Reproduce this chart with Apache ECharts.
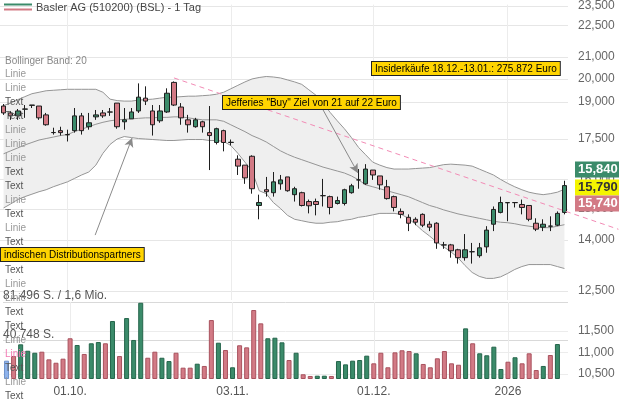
<!DOCTYPE html>
<html>
<head>
<meta charset="UTF-8">
<title>Basler AG</title>
<script src="https://cdn.jsdelivr.net/npm/echarts@6.0.0/dist/echarts.min.js"></script>
<style>
html, body { margin: 0; padding: 0; background: #fff; }
#chart { width: 619px; height: 399px; }
</style>
</head>
<body>
<div id="chart"></div>
<script>
// Handelstage
var dates = [
	'18.09.2025','19.09.2025','22.09.2025','23.09.2025','24.09.2025','25.09.2025','26.09.2025','29.09.2025','30.09.2025',
	'01.10.2025','02.10.2025','03.10.2025','06.10.2025','07.10.2025','08.10.2025','09.10.2025','10.10.2025','13.10.2025','14.10.2025',
	'15.10.2025','16.10.2025','17.10.2025','20.10.2025','21.10.2025','22.10.2025','23.10.2025','24.10.2025','27.10.2025','28.10.2025',
	'29.10.2025','30.10.2025','31.10.2025',
	'03.11.2025','04.11.2025','05.11.2025','06.11.2025','07.11.2025','10.11.2025','11.11.2025','12.11.2025','13.11.2025','14.11.2025',
	'17.11.2025','18.11.2025','19.11.2025','20.11.2025','21.11.2025','24.11.2025','25.11.2025','26.11.2025','27.11.2025','28.11.2025',
	'01.12.2025','02.12.2025','03.12.2025','04.12.2025','05.12.2025','08.12.2025','09.12.2025','10.12.2025','11.12.2025','12.12.2025',
	'15.12.2025','16.12.2025','17.12.2025','18.12.2025','19.12.2025','22.12.2025','23.12.2025','29.12.2025','30.12.2025',
	'02.01.2026','05.01.2026','06.01.2026','07.01.2026','08.01.2026','09.01.2026','12.01.2026','13.01.2026','14.01.2026'
];

// Kurse (Euro)
var open = [18.831,18.546,18.426,18.700,18.860,18.831,18.466,17.755,17.833,17.678,
	17.833,18.425,17.988,18.385,18.546,18.586,18.955,18.186,18.305,18.627,
	19.163,18.627,18.226,18.586,19.843,18.790,18.265,17.988,18.186,17.755,
	17.372,17.833,17.372,16.740,16.522,16.850,15.110,15.646,15.544,15.852,
	16.096,15.476,15.544,15.242,15.242,15.443,15.409,15.176,15.176,15.544,
	15.991,15.852,16.343,16.131,15.749,15.409,14.913,14.719,14.655,14.816,
	14.496,14.528,13.848,13.848,13.698,13.461,13.640,13.520,13.788,14.496,
	14.880,15.209,15.209,15.143,15.110,14.528,14.402,14.433,14.465,14.880];
var close = [18.546,18.426,18.627,18.710,18.873,18.345,18.067,17.760,17.755,17.670,
	18.425,17.833,18.146,18.466,18.426,18.580,17.988,18.265,18.586,19.205,
	19.038,18.067,18.627,19.373,18.873,18.345,18.067,18.265,17.988,17.640,
	17.910,17.372,17.380,16.486,16.061,15.681,15.209,15.578,15.921,15.991,
	15.612,15.681,15.110,15.100,15.143,15.440,15.044,15.276,15.646,15.783,
	15.990,16.379,16.166,15.817,15.342,15.044,14.816,14.528,14.560,14.465,
	14.402,13.908,13.845,13.668,13.461,13.698,13.638,13.758,14.308,14.978,
	15.209,15.200,15.205,15.044,14.655,14.339,14.496,14.436,14.848,15.790];
var low = [18.466,18.265,18.265,18.345,18.749,18.265,18.028,17.678,17.640,17.410,
	17.755,17.678,17.871,18.265,18.345,18.426,17.910,17.871,18.305,18.546,
	18.873,17.640,18.146,18.546,18.831,18.067,17.755,17.949,17.755,16.343,
	17.296,17.034,17.258,16.166,15.852,15.510,14.655,15.409,15.409,15.646,
	15.578,15.242,15.077,14.848,14.783,15.077,14.816,15.143,15.110,15.510,
	15.681,15.817,15.991,15.646,15.309,14.913,14.688,14.277,14.465,14.402,
	14.277,13.728,13.728,13.461,13.286,13.373,13.286,13.461,13.609,14.277,
	14.848,14.592,15.044,14.816,14.592,14.277,14.277,14.277,14.433,14.816];
var high = [18.914,18.627,18.708,18.873,18.873,18.831,18.546,17.949,17.988,17.871,
	18.749,18.546,18.546,18.667,18.667,18.749,18.955,18.749,18.749,19.800,
	19.671,18.873,18.873,19.585,19.886,18.955,18.466,18.345,18.226,18.831,
	17.949,17.871,17.486,16.886,16.522,16.886,15.476,16.096,16.272,16.166,
	16.096,15.749,15.578,15.309,15.342,16.026,15.443,15.409,15.681,15.852,
	16.379,16.558,16.343,16.131,15.991,15.443,15.010,14.816,14.719,14.848,
	14.592,14.560,13.939,13.878,13.728,14.184,13.908,13.908,14.433,15.077,
	15.409,15.209,15.209,15.309,15.110,14.688,14.655,14.751,14.913,15.960];

// Stueckzahlen
var volume = [19400,24300,36700,29900,27800,28900,20800,17200,21500,43100,
	36000,26500,37800,39100,37800,61400,24300,64500,41300,80700,
	22500,28900,22500,19000,27800,12000,12000,16200,13800,62400,
	38400,30700,12400,35700,33500,73000,58900,43100,43700,38800,
	20100,27800,5000,3200,3500,3500,3200,19000,15500,19400,
	20100,24700,16600,27800,12400,28200,30400,29600,27200,15900,
	12400,21900,29600,16600,15100,53600,37800,27200,25100,34200,
	10600,18300,23000,16600,27200,9500,13800,25400,37000,null];

// Bollinger Band (20)
var bbUpper = [18.852,18.955,19.100,19.226,19.352,19.415,19.479,19.500,19.521,19.543,
	19.543,19.543,19.543,19.543,19.415,19.121,19.059,19.038,19.038,19.080,
	19.100,19.121,19.163,19.205,19.205,19.226,19.247,19.247,19.268,19.289,
	19.331,19.415,19.564,19.714,19.864,19.995,20.060,20.104,20.082,20.039,
	19.952,19.864,19.757,19.521,19.289,18.955,18.566,18.226,17.910,17.562,
	17.183,16.905,16.631,16.522,16.432,16.379,16.379,16.379,16.397,16.414,
	16.432,16.486,16.540,16.558,16.540,16.522,16.486,16.379,16.272,16.166,
	16.008,15.869,15.749,15.646,15.561,15.510,15.476,15.510,15.561,15.663];
var bbMiddle = [16.942,17.053,17.164,17.277,17.372,17.467,17.524,17.581,17.639,17.678,
	17.794,17.890,17.988,18.087,18.166,18.226,18.265,18.285,18.305,18.325,
	18.345,18.345,18.365,18.365,18.385,18.385,18.345,18.305,18.265,18.265,
	18.265,18.206,18.067,17.930,17.794,17.639,17.524,17.391,17.221,17.053,
	16.923,16.813,16.722,16.631,16.540,16.450,16.379,16.308,16.237,16.131,
	15.991,15.818,15.749,15.681,15.612,15.544,15.476,15.409,15.309,15.209,
	15.110,15.044,14.962,14.897,14.832,14.783,14.735,14.687,14.640,14.592,
	14.560,14.544,14.512,14.465,14.433,14.402,14.386,14.386,14.433,14.481];
var bbLower = [15.028,15.160,15.309,15.409,15.493,15.578,15.646,15.749,15.835,15.921,
	16.043,16.166,16.272,16.522,16.960,17.296,17.505,17.601,17.562,17.524,
	17.505,17.486,17.467,17.448,17.448,17.467,17.486,17.486,17.486,17.448,
	17.448,17.410,17.258,16.960,16.631,16.308,15.612,15.510,15.209,15.011,
	14.783,14.655,14.608,14.560,14.528,14.528,14.560,14.576,14.624,14.655,
	14.719,14.751,14.799,14.848,14.848,14.848,14.816,14.687,14.496,14.293,
	14.122,13.939,13.788,13.638,13.461,13.228,13.028,12.915,12.858,12.858,
	12.901,13.000,13.114,13.199,13.257,13.257,13.257,13.257,13.199,13.142];

// Achsen
var priceTicks = [12.5, 14, 15, 16, 17.5, 19, 20, 21, 22.5, 23.5];
var volTicks = [40748, 81496];
var volRightTicks = [10.5, 11, 11.5];
var volTotal = '1,6 Mio.';

// Kurslabels rechts
var quoteBadges = [
	{ text: '15,840', bg: '#3b8b6a', fg: '#fff', dy: -16 },
	{ text: '15,790', bg: '#f4f400', fg: '#333', dy: 2 },
	{ text: '15,740', bg: '#d27a85', fg: '#fff', dy: 18 }
];
var lastPrice = 15.79;

// Trendlinie und Pfeile (x = Handelstag-Index)
var trendLine = [[24, 19.89], [86.6, 14.30]];
var arrows = [
	[[12.9, 14.12], [18.1, 17.45]],
	[[45.0, 18.55], [49.9, 16.17]]
];

// Notizen
var notes = [
	{ text: 'Insiderkäufe 18.12.-13.01.: 275.872 Euro', left: 371, top: 61 },
	{ text: 'Jefferies "Buy" Ziel von 21 auf 22 Euro', left: 222, top: 95 },
	{ text: 'indischen Distributionspartners', left: 0, top: 247 }
];
var sideLabels = ['Linie','Linie','Text','Text','Linie','Linie','Linie','Text','Text','Linie','Text','Linie',
	'Text','Text','Text','Linie','Linie','Text','Text','Linie','Linie','Text','Linie','Text'];

var FONT = '"Liberation Sans", Arial, sans-serif';
var GREEN = '#3b8b6a';
var PINK = '#d27a85';

function fmtPrice(v) {
	return v.toFixed(3).replace('.', ',');
}
function fmtShares(v) {
	return String(Math.round(v)).replace(/\B(?=(\d{3})+(?!\d))/g, '.');
}
function monthStart(i) {
	return i > 0 && dates[i].slice(3, 5) !== dates[i - 1].slice(3, 5);
}
function dateLabel(v) {
	return v.slice(3, 5) === '01' ? v.slice(6) : v.slice(0, 6);
}

var candles = [];
var bbWidth = [];
var volBars = [];
for (var i = 0; i < dates.length; i++) {
	candles.push([open[i], close[i], low[i], high[i]]);
	bbWidth.push(+(bbUpper[i] - bbLower[i]).toFixed(3));
	// Farbe nach Veraenderung zum Vortag
	var fill = i === 0 ? '#8fb3ec' : (close[i] >= close[i - 1] ? GREEN : PINK);
	var edge = i === 0 ? '#6f93cc' : (close[i] >= close[i - 1] ? '#25654b' : '#a9525e');
	volBars.push({ value: volume[i], itemStyle: { color: fill, borderColor: edge, borderWidth: 1 } });
}

var badgeLines = quoteBadges.map(function (b) {
	return {
		yAxis: lastPrice,
		label: {
			show: true, position: 'end', distance: 7, formatter: b.text,
			backgroundColor: b.bg, color: b.fg, fontSize: 13, fontWeight: 'bold',
			padding: [2, 3, 1, 3], offset: [0, b.dy], fontFamily: FONT
		}
	};
});

var graphics = [
	{ type: 'line', shape: { x1: 4, y1: 4.5, x2: 32, y2: 4.5 }, style: { stroke: GREEN, lineWidth: 2 } },
	{ type: 'line', shape: { x1: 4, y1: 9.5, x2: 32, y2: 9.5 }, style: { stroke: PINK, lineWidth: 2 } },
	{ type: 'text', left: 36, top: 2, z: 100, style: { text: 'Basler AG (510200) (BSL) - 1 Tag', fill: '#444', font: '11px ' + FONT } },
	{ type: 'text', left: 5, top: 56, z: 100, style: { text: 'Bollinger Band: 20', fill: '#888', font: '10px ' + FONT } }
];
sideLabels.forEach(function (t, k) {
	var col = t === 'Text' ? '#555' : '#999';
	if (k === 20) col = '#f27bb4';
	graphics.push({ type: 'text', left: 5, top: 69 + 14 * k, z: 100,
		style: { text: t, fill: col, font: '10px ' + FONT } });
});
notes.forEach(function (n) {
	graphics.push({ type: 'text', left: n.left, top: n.top, z: 110,
		style: { text: n.text, fill: '#000', font: '10px ' + FONT, backgroundColor: '#ffd400',
			borderColor: '#222', borderWidth: 1, padding: [2, 3, 1, 3] } });
});

var chart = echarts.init(document.getElementById('chart'));
var option = {
	animation: false,
	textStyle: { fontFamily: FONT },
	grid: [
		{ left: 0, top: 0, width: 568, height: 300 },
		{ left: 0, top: 302, width: 568, height: 77 },
		{ left: 0, top: 0, width: 619, height: 300 }
	],
	xAxis: [
		{
			type: 'category', gridIndex: 0, data: dates,
			axisLine: { show: false }, axisTick: { show: false }, axisLabel: { show: false },
			splitLine: { show: true, alignWithLabel: true, interval: monthStart, lineStyle: { color: '#ececec' } }
		},
		{
			type: 'category', gridIndex: 1, data: dates,
			axisLine: { show: false }, axisTick: { show: false },
			axisLabel: { interval: monthStart, formatter: dateLabel, margin: 7, color: '#555', fontSize: 12 },
			splitLine: { show: true, alignWithLabel: true, interval: monthStart, lineStyle: { color: '#ececec' } }
		},
		{ type: 'value', gridIndex: 2, min: -0.5, max: 86.68, show: false }
	],
	yAxis: [
		{
			type: 'log', logBase: 10, gridIndex: 0, min: 12.257, max: 23.572, position: 'right',
			axisLine: { show: false },
			axisTick: { show: false, customValues: priceTicks },
			axisLabel: { customValues: priceTicks, formatter: fmtPrice, margin: 10, color: '#666', fontSize: 12 },
			splitLine: { show: true, lineStyle: { color: '#e6e6e6' } }
		},
		{ type: 'log', logBase: 10, gridIndex: 2, min: 12.257, max: 23.572, show: false },
		{
			type: 'value', gridIndex: 1, min: 0, max: 81496, position: 'left',
			axisLine: { show: false },
			axisTick: { show: false, customValues: volTicks },
			axisLabel: {
				customValues: volTicks, inside: true, margin: 0, verticalAlign: 'bottom',
				color: '#555', fontSize: 12,
				formatter: function (v) { return v === 81496 ? fmtShares(v) + ' S. / ' + volTotal : fmtShares(v) + ' S.'; }
			},
			splitLine: { show: true, lineStyle: { color: '#d9d9d9' } }
		},
		{
			type: 'value', gridIndex: 1, min: 10.384, max: 12.176, position: 'right',
			axisLine: { show: false },
			axisTick: { show: false, customValues: volRightTicks },
			axisLabel: { customValues: volRightTicks, formatter: fmtPrice, margin: 10, color: '#666', fontSize: 12 },
			splitLine: { show: true, lineStyle: { color: '#ececec' } }
		}
	],
	series: [
		{
			name: 'BB unten', type: 'line', xAxisIndex: 0, yAxisIndex: 0, data: bbLower,
			stack: 'bb', symbol: 'none', silent: true,
			lineStyle: { color: '#959595', width: 1 }, z: 1
		},
		{
			name: 'BB oben', type: 'line', xAxisIndex: 0, yAxisIndex: 0, data: bbWidth,
			stack: 'bb', symbol: 'none', silent: true,
			lineStyle: { color: '#959595', width: 1 }, areaStyle: { color: '#efefef', opacity: 1 }, z: 1
		},
		{
			name: 'BB Mitte', type: 'line', xAxisIndex: 0, yAxisIndex: 0, data: bbMiddle,
			symbol: 'none', silent: true, lineStyle: { color: '#959595', width: 1 }, z: 1
		},
		{
			name: 'Kurs', type: 'candlestick', xAxisIndex: 0, yAxisIndex: 0, data: candles,
			barWidth: 5,
			itemStyle: { color: GREEN, color0: PINK, borderColor: '#1e1e1e', borderColor0: '#1e1e1e', borderWidth: 1 },
			markLine: {
				silent: true, symbol: 'none', animation: false,
				lineStyle: { color: 'rgba(0,0,0,0)', width: 1, type: 'solid' },
				data: badgeLines
			},
			z: 3
		},
		{
			name: 'Volumen', type: 'bar', xAxisIndex: 1, yAxisIndex: 2, data: volBars, barWidth: 5
		},
		{
			name: 'Trend', type: 'line', xAxisIndex: 2, yAxisIndex: 1, data: trendLine,
			symbol: 'none', silent: true,
			lineStyle: { color: '#f28bb5', type: [5, 4], width: 1 },
			markLine: {
				silent: true, symbol: ['none', 'arrow'], symbolSize: [7, 9],
				lineStyle: { color: '#8a8a8a', type: 'solid', width: 1 },
				label: { show: false },
				data: arrows.map(function (a) { return [{ coord: a[0] }, { coord: a[1] }]; })
			},
			z: 4
		}
	],
	graphic: graphics
};
chart.setOption(option);
</script>
</body>
</html>
